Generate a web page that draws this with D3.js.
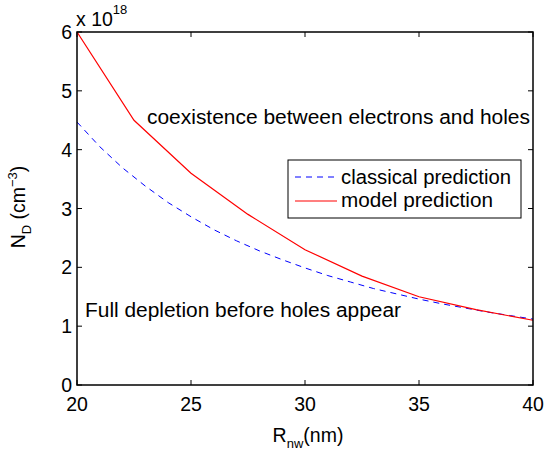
<!DOCTYPE html>
<html><head><meta charset="utf-8">
<script src="https://cdn.jsdelivr.net/npm/d3@7"></script>
<style>body{margin:0;background:#fff}svg{display:block;font-family:"Liberation Sans",Arial,sans-serif}</style>
</head><body><div id="c"></div>
<script>
const xTicks=[20,25,30,35,40];
const yTicks=[0,1,2,3,4,5,6];
const modelR=[20,22.5,25,27.5,30,32.5,35,37.5,40];
const modelN=[6.0,4.5,3.6,2.9,2.3,1.85,1.5,1.28,1.1];
const classR=[20,21,22,23,24,25,26,27,28,29,30,31,32,33,34,35,36,37,38,39,40];
const classN=[4.47,4.05,3.69,3.38,3.10,2.86,2.64,2.45,2.28,2.13,1.99,1.86,1.75,1.64,1.55,1.46,1.38,1.31,1.24,1.18,1.12];
const W=545,H=456,L=77,R=533,T=32,B=385;
const svg=d3.select("#c").append("svg").attr("width",W).attr("height",H);
const x=d3.scaleLinear().domain([20,40]).range([L,R]);
const y=d3.scaleLinear().domain([0,6]).range([B,T]);
const fs=19.5;
const g=svg.append("g").attr("stroke","#000").attr("stroke-width",1);
xTicks.forEach(v=>{g.append("line").attr("x1",x(v)).attr("x2",x(v)).attr("y1",B).attr("y2",B-5);
 g.append("line").attr("x1",x(v)).attr("x2",x(v)).attr("y1",T).attr("y2",T+5);});
yTicks.forEach(v=>{g.append("line").attr("x1",L).attr("x2",L+5).attr("y1",y(v)).attr("y2",y(v));
 g.append("line").attr("x1",R).attr("x2",R-5).attr("y1",y(v)).attr("y2",y(v));});
svg.append("g").selectAll("text").data(xTicks).join("text").attr("x",d=>x(d)).attr("y",B+26)
 .attr("text-anchor","middle").attr("font-size",fs).text(d=>d);
svg.append("g").selectAll("text").data(yTicks).join("text").attr("x",L-5).attr("y",d=>y(d)+7)
 .attr("text-anchor","end").attr("font-size",fs).text(d=>d);
const line=d3.line().x(d=>x(d[0])).y(d=>y(d[1]));
svg.append("clipPath").attr("id","cp").append("rect").attr("x",L).attr("y",T).attr("width",R-L).attr("height",B-T);
svg.append("path").attr("clip-path","url(#cp)").datum(classR.map((r,i)=>[r,classN[i]])).attr("d",line)
 .attr("fill","none").attr("stroke","#0000ff").attr("stroke-width",1).attr("stroke-dasharray","6,5");
svg.append("path").attr("clip-path","url(#cp)").datum(modelR.map((r,i)=>[r,modelN[i]])).attr("d",line)
 .attr("fill","none").attr("stroke","#ff0000").attr("stroke-width",1.2);
svg.append("rect").attr("x",L).attr("y",T).attr("width",R-L).attr("height",B-T)
 .attr("fill","none").attr("stroke","#000").attr("stroke-width",1.5);
const ex=svg.append("text").attr("x",L-1).attr("y",26).attr("font-size",fs);
ex.append("tspan").text("x 10");
ex.append("tspan").attr("dy",-12).attr("font-size",13).text("18");
svg.append("text").attr("x",147).attr("y",124).attr("font-size",fs).attr("textLength",383).attr("lengthAdjust","spacingAndGlyphs").text("coexistence between electrons and holes");
svg.append("text").attr("x",85).attr("y",317).attr("font-size",fs).attr("textLength",316).attr("lengthAdjust","spacingAndGlyphs").text("Full depletion before holes appear");
svg.append("rect").attr("x",288).attr("y",160).attr("width",233).attr("height",58).attr("fill","#fff").attr("stroke","#000").attr("stroke-width",1);
svg.append("line").attr("x1",295).attr("x2",337).attr("y1",177).attr("y2",177).attr("stroke","#0000ff").attr("stroke-dasharray","6,5").attr("stroke-width",1);
svg.append("line").attr("x1",295).attr("x2",337).attr("y1",201).attr("y2",201).attr("stroke","#ff0000").attr("stroke-width",1.2);
svg.append("text").attr("x",341).attr("y",184).attr("font-size",fs).attr("textLength",170).attr("lengthAdjust","spacingAndGlyphs").text("classical prediction");
svg.append("text").attr("x",341).attr("y",207).attr("font-size",fs).attr("textLength",152).attr("lengthAdjust","spacingAndGlyphs").text("model prediction");
const xl=svg.append("text").attr("x",308).attr("y",442).attr("text-anchor","middle").attr("font-size",fs);
xl.append("tspan").text("R");
xl.append("tspan").attr("dy",6).attr("font-size",13).text("nw");
xl.append("tspan").attr("dy",-6).text("(nm)");
const yl=svg.append("text").attr("transform","translate(25,207) rotate(-90)").attr("text-anchor","middle").attr("font-size",fs);
yl.append("tspan").text("N");
yl.append("tspan").attr("dy",6).attr("font-size",13).text("D");
yl.append("tspan").attr("dy",-6).text(" (cm");
yl.append("tspan").attr("dy",-8).attr("font-size",13).text("−3");
yl.append("tspan").attr("dy",8).text(")");
</script></body></html>
